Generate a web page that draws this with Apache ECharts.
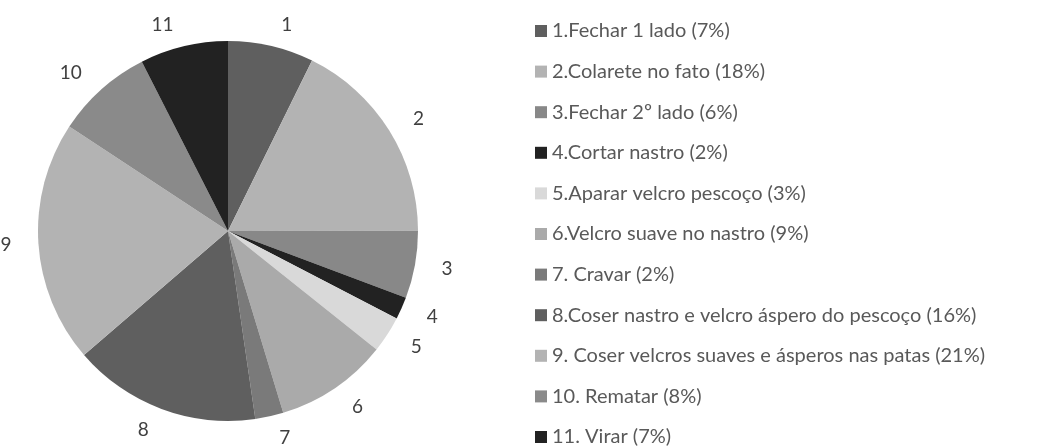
<!DOCTYPE html>
<html>
<head>
<meta charset="utf-8">
<script src="https://cdn.jsdelivr.net/npm/echarts@6/dist/echarts.min.js"></script>
<style>
  html, body { margin: 0; padding: 0; background: #fff; }
  #chart { width: 1040px; height: 446px; }
</style>
</head>
<body>
<div id="chart"></div>
<script>
// etapas (legenda) e percentagens
const names = [
  '1.Fechar 1 lado (7%)',
  '2.Colarete no fato (18%)',
  '3.Fechar 2º lado (6%)',
  '4.Cortar nastro (2%)',
  '5.Aparar velcro pescoço (3%)',
  '6.Velcro suave no nastro (9%)',
  '7. Cravar (2%)',
  '8.Coser nastro e velcro áspero do pescoço (16%)',
  '9. Coser velcros suaves e ásperos nas patas (21%)',
  '10. Rematar (8%)',
  '11. Virar (7%)'
];
const labels = ['1', '2', '3', '4', '5', '6', '7', '8', '9', '10', '11'];
const values = [7.3, 17.7, 5.75, 1.9, 3.1, 9.6, 2.4, 16, 20.6, 8.25, 7.5];
const colors = ['#5f5f5f', '#b3b3b3', '#888888', '#222222', '#d9d9d9', '#aaaaaa',
                '#7a7a7a', '#5f5f5f', '#b3b3b3', '#8a8a8a', '#222222'];

const chart = echarts.init(document.getElementById('chart'));
chart.setOption({
  animation: false,
  color: colors,
  legend: {
    orient: 'vertical',
    left: 530,
    top: 16,
    height: 440,
    itemWidth: 12,
    itemHeight: 12,
    itemGap: 20.6,
    icon: 'rect',
    textStyle: {
      fontFamily: 'Lato',
      fontSize: 20,
      lineHeight: 20,
      color: '#595959'
    },
    data: names
  },
  series: [
    {
      type: 'pie',
      center: [228, 231],
      radius: 190,
      startAngle: 90,
      clockwise: true,
      avoidLabelOverlap: false,
      label: {
        show: true,
        position: 'outside',
        fontFamily: 'Lato',
        fontSize: 19,
        color: '#404040',
        formatter: p => labels[p.dataIndex]
      },
      labelLine: { show: false, length: 22, length2: 0 },
      itemStyle: { borderWidth: 0 },
      emphasis: { disabled: true },
      data: names.map((n, i) => ({ name: n, value: values[i] }))
    }
  ]
});
</script>
</body>
</html>
